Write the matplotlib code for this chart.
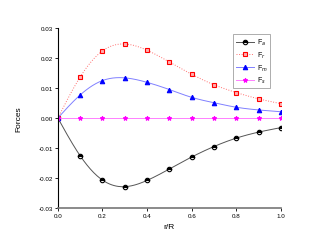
import numpy as np
import matplotlib
matplotlib.use('Agg')
import matplotlib.pyplot as plt
from matplotlib.ticker import FormatStrFormatter

r = [0.0, 0.1, 0.2, 0.3, 0.4, 0.5, 0.6, 0.7, 0.8, 0.9, 1.0]
f_a = [0.0, -0.0126, -0.0207, -0.0229, -0.0208, -0.0170, -0.0130, -0.0095, -0.0067, -0.0047, -0.0032]
f_r = [0.0, 0.0137, 0.0224, 0.0247, 0.0226, 0.0187, 0.0146, 0.0111, 0.0085, 0.0064, 0.0048]
f_m = [0.0, 0.0077, 0.0125, 0.0134, 0.0119, 0.0095, 0.0069, 0.0051, 0.0036, 0.0027, 0.0021]
f_s = [0.0] * 11
labels = ['F$_a$', 'F$_r$', 'F$_m$', 'F$_s$']


def spline(x, y, n=200):
    # natural cubic spline for drawing the smooth curve
    x = np.asarray(x, float)
    y = np.asarray(y, float)
    h = np.diff(x)
    k = len(x)
    A = np.zeros((k, k))
    b = np.zeros(k)
    A[0, 0] = A[-1, -1] = 1
    for i in range(1, k - 1):
        A[i, i - 1] = h[i - 1]
        A[i, i] = 2 * (h[i - 1] + h[i])
        A[i, i + 1] = h[i]
        b[i] = 3 * ((y[i + 1] - y[i]) / h[i] - (y[i] - y[i - 1]) / h[i - 1])
    c = np.linalg.solve(A, b)
    xs = np.linspace(x[0], x[-1], n)
    idx = np.clip(np.searchsorted(x, xs) - 1, 0, k - 2)
    dx = xs - x[idx]
    bb = (y[1:] - y[:-1]) / h - h * (2 * c[:-1] + c[1:]) / 3
    d = (c[1:] - c[:-1]) / (3 * h)
    ys = y[idx] + bb[idx] * dx + c[idx] * dx ** 2 + d[idx] * dx ** 3
    return xs, ys


plt.rcParams['font.family'] = ['Liberation Sans', 'DejaVu Sans']
fig = plt.figure(figsize=(3.27, 2.53), dpi=100)
ax = fig.add_axes([0.177, 0.174, 0.682, 0.711])

series = [
    (f_a, '#555555', '-', 'k', 'o', 'k', 'top'),
    (f_r, '#ff7070', ':', 'red', 's', '#ffb0b0', 'full'),
    (f_m, '#8080ff', '-', 'blue', '^', 'blue', 'full'),
    (f_s, '#ff80ff', '-', 'magenta', '*', 'magenta', 'full'),
]
for (vals, lc, ls, mc, mk, fc, fs), lab in zip(series, labels):
    xs, ys = spline(r, vals)
    ax.plot(xs, ys, color=lc, ls=ls, lw=0.7)
    ax.plot(r, vals, ls='none', marker=mk, ms=3.2, mec=mc, mfc=fc, mew=0.8,
            fillstyle=fs, markerfacecoloralt='white')
    ax.plot([], [], color=lc, ls=ls, lw=0.7, marker=mk, ms=3.2, mec=mc, mfc=fc,
            mew=0.8, fillstyle=fs, markerfacecoloralt='white', label=lab)

ax.set_xlim(0, 1.0)
ax.set_ylim(-0.03, 0.03)
ax.set_xticks(np.arange(0, 1.01, 0.2))
ax.set_yticks(np.arange(-0.03, 0.031, 0.01))
ax.xaxis.set_major_formatter(FormatStrFormatter('%.1f'))
ax.yaxis.set_major_formatter(FormatStrFormatter('%.2f'))
ax.tick_params(labelsize=4.5, length=2, width=0.6, pad=1.5)
ax.spines['top'].set_visible(False)
ax.spines['right'].set_visible(False)
ax.spines['left'].set_linewidth(0.8)
ax.spines['bottom'].set_linewidth(1.2)
ax.spines['bottom'].set_color('#777777')
ax.set_xlabel('r/R', fontsize=6, labelpad=4)
ax.set_ylabel('Forces', fontsize=6, labelpad=12)

leg = ax.legend(loc='upper right', bbox_to_anchor=(0.968, 0.985), fontsize=5,
                frameon=True, fancybox=False, edgecolor='#888888',
                handlelength=2.6, handletextpad=0.4, borderpad=0.4, labelspacing=0.35)
leg.get_frame().set_linewidth(0.6)

fig.savefig('out.png', dpi=100)
